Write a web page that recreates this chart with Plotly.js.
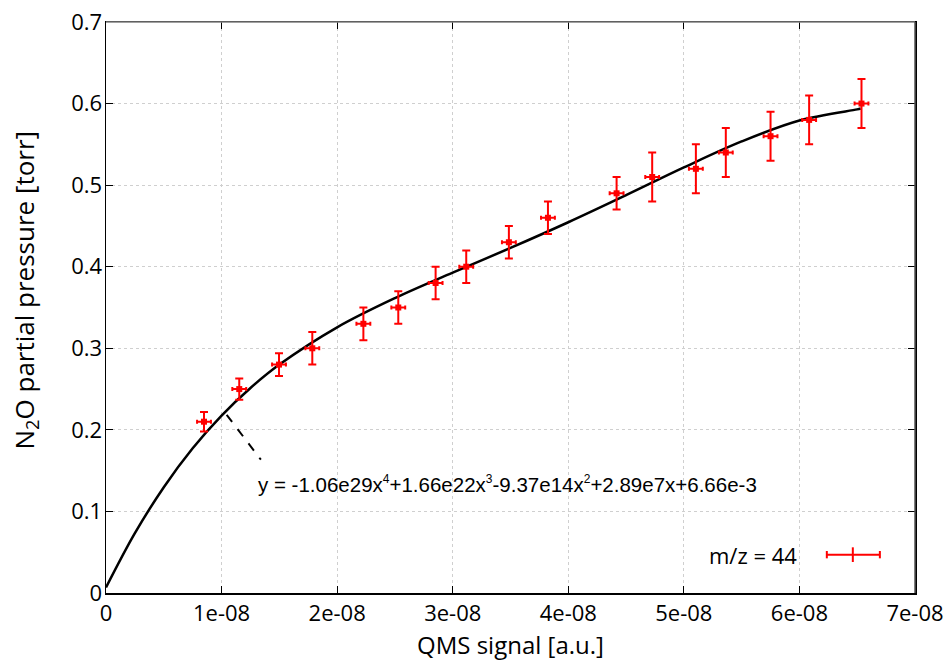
<!DOCTYPE html>
<html>
<head>
<meta charset="utf-8">
<script src="https://cdn.plot.ly/plotly-3.0.1.min.js"></script>
<style>html,body{margin:0;padding:0;background:#fff;}#chart{width:952px;height:664px;}</style>
</head>
<body>
<div id="chart"></div>
<script>
// Measured points (QMS signal vs N2O partial pressure)
const qmsSignal = [0.848e-8, 1.153e-8, 1.497e-8, 1.785e-8, 2.227e-8, 2.529e-8, 2.852e-8, 3.117e-8, 3.486e-8, 3.824e-8, 4.418e-8, 4.726e-8, 5.104e-8, 5.363e-8, 5.750e-8, 6.084e-8, 6.537e-8];
const pressure  = [0.21, 0.25, 0.28, 0.30, 0.33, 0.35, 0.38, 0.40, 0.43, 0.46, 0.49, 0.51, 0.52, 0.54, 0.56, 0.58, 0.60];
const pressureErr = [0.012, 0.013, 0.014, 0.02, 0.02, 0.02, 0.02, 0.02, 0.02, 0.02, 0.02, 0.03, 0.03, 0.03, 0.03, 0.03, 0.03];
const signalErr = [0.06e-8, 0.06e-8, 0.06e-8, 0.06e-8, 0.06e-8, 0.06e-8, 0.06e-8, 0.06e-8, 0.06e-8, 0.06e-8, 0.06e-8, 0.06e-8, 0.06e-8, 0.06e-8, 0.06e-8, 0.06e-8, 0.06e-8];

// Fit curve, values
const fitX = [0, 0.25e-8, 0.5e-8, 0.75e-8, 1.0e-8, 1.25e-8, 1.5e-8, 2.0e-8, 2.5e-8, 3.0e-8, 3.5e-8, 4.0e-8, 4.5e-8, 5.0e-8, 5.5e-8, 6.0e-8, 6.5e-8, 6.53e-8];
const fitY = [0.0067, 0.0733, 0.1297, 0.1774, 0.2175, 0.2513, 0.2800, 0.3257, 0.3615, 0.3927, 0.4230, 0.4545, 0.4877, 0.5217, 0.5536, 0.5793, 0.5929, 0.5939];

const xTicks = [0, 1e-8, 2e-8, 3e-8, 4e-8, 5e-8, 6e-8, 7e-8];
const xTickLabels = ['0', '1e-08', '2e-08', '3e-08', '4e-08', '5e-08', '6e-08', '7e-08'];
const yTicks = [0, 0.1, 0.2, 0.3, 0.4, 0.5, 0.6, 0.7];
const yTickLabels = ['0', '0.1', '0.2', '0.3', '0.4', '0.5', '0.6', '0.7'];

const xTitle = 'QMS signal [a.u.]';
const yTitle = 'N<sub>2</sub>O partial pressure [torr]';
const sup = s => '<sup><span style="font-size:12px">' + s + '</span></sup>';
const fitLabel = 'y = -1.06e29x' + sup('4') + '+1.66e22x' + sup('3') + '-9.37e14x' + sup('2') + '+2.89e7x+6.66e-3';
const seriesName = 'm/z = 44';

const traces = [
  {
    x: fitX, y: fitY, type: 'scatter', mode: 'lines',
    line: {color: '#000', width: 2.5, shape: 'spline', smoothing: 1},
    hoverinfo: 'skip', showlegend: false
  },
  {
    x: qmsSignal, y: pressure, type: 'scatter', mode: 'markers', name: seriesName,
    marker: {symbol: 'square', size: 6, color: '#ff0000'},
    error_y: {type: 'data', array: pressureErr, visible: true, color: '#ff0000', thickness: 2, width: 4},
    error_x: {type: 'data', array: signalErr, visible: true, color: '#ff0000', thickness: 2, width: 2},
    showlegend: false
  }
];

const axisFont = {family: 'Open Sans', size: 22, color: '#000'};
const titleFont = {family: 'Open Sans', size: 24, color: '#000'};

const layout = {
  width: 952, height: 664,
  margin: {l: 106, r: 37, t: 22, b: 71, pad: 0},
  paper_bgcolor: '#fff', plot_bgcolor: '#fff',
  font: {family: 'Open Sans', color: '#000'},
  xaxis: {
    range: [0, 7e-8], tickmode: 'array', tickvals: xTicks, ticktext: xTickLabels,
    ticks: 'inside', ticklen: 7, tickwidth: 1, tickcolor: '#000',
    showline: true, linecolor: '#000', linewidth: 1.5, mirror: 'ticks',
    showgrid: true, gridcolor: '#cfcfcf', griddash: 'dot', gridwidth: 1,
    zeroline: false, tickfont: axisFont
  },
  yaxis: {
    range: [0, 0.7], tickmode: 'array', tickvals: yTicks, ticktext: yTickLabels,
    ticks: 'inside', ticklen: 7, tickwidth: 1, tickcolor: '#000',
    showline: true, linecolor: '#000', linewidth: 1.5, mirror: 'ticks',
    showgrid: true, gridcolor: '#cfcfcf', griddash: 'dot', gridwidth: 1,
    zeroline: false, tickfont: axisFont, ticklabelstandoff: -2
  },
  shapes: [
    // dashed leader from curve to equation
    {type: 'line', xref: 'x', yref: 'y', x0: 1.044e-8, y0: 0.2185, x1: 1.34e-8, y1: 0.1634,
     line: {color: '#000', width: 2, dash: 'dash'}},
    // custom legend sample (x-y error bar)
    {type: 'line', xref: 'x', yref: 'y', x0: 6.237e-8, y0: 0.047, x1: 6.696e-8, y1: 0.047, line: {color: '#ff0000', width: 2}},
    {type: 'line', xref: 'x', yref: 'y', x0: 6.237e-8, y0: 0.0425, x1: 6.237e-8, y1: 0.0515, line: {color: '#ff0000', width: 2}},
    {type: 'line', xref: 'x', yref: 'y', x0: 6.696e-8, y0: 0.0425, x1: 6.696e-8, y1: 0.0515, line: {color: '#ff0000', width: 2}},
    {type: 'line', xref: 'x', yref: 'y', x0: 6.462e-8, y0: 0.038, x1: 6.462e-8, y1: 0.056, line: {color: '#ff0000', width: 2}},
    // gray top/right frame
    {type: 'line', xref: 'paper', yref: 'paper', x0: 0, y0: 1, x1: 1, y1: 1, line: {color: '#808080', width: 1.5}},
    {type: 'line', xref: 'paper', yref: 'paper', x0: 1, y0: 0, x1: 1, y1: 1, line: {color: '#555', width: 1.5}}
  ],
  annotations: [
    {xref: 'x', yref: 'y', x: 1.30e-8, y: 0.134, xanchor: 'left', yanchor: 'middle', showarrow: false,
     text: fitLabel, font: {family: 'Liberation Sans', size: 20.5, color: '#000'}},
    {xref: 'x', yref: 'y', x: 6.0e-8, y: 0.047, xanchor: 'right', yanchor: 'middle', showarrow: false,
     text: seriesName, font: {family: 'Open Sans', size: 22, color: '#000'}},
    // axis titles
    {xref: 'paper', yref: 'paper', x: 0.5, y: -0.091, xanchor: 'center', yanchor: 'middle', showarrow: false,
     text: xTitle, font: titleFont},
    {xref: 'paper', yref: 'paper', x: -0.1, y: 0.53, xanchor: 'center', yanchor: 'middle', showarrow: false,
     textangle: -90, text: yTitle, font: {family: 'Open Sans', size: 26, color: '#000'}}
  ]
};

Plotly.newPlot('chart', traces, layout, {displayModeBar: false, staticPlot: true});
</script>
</body>
</html>
